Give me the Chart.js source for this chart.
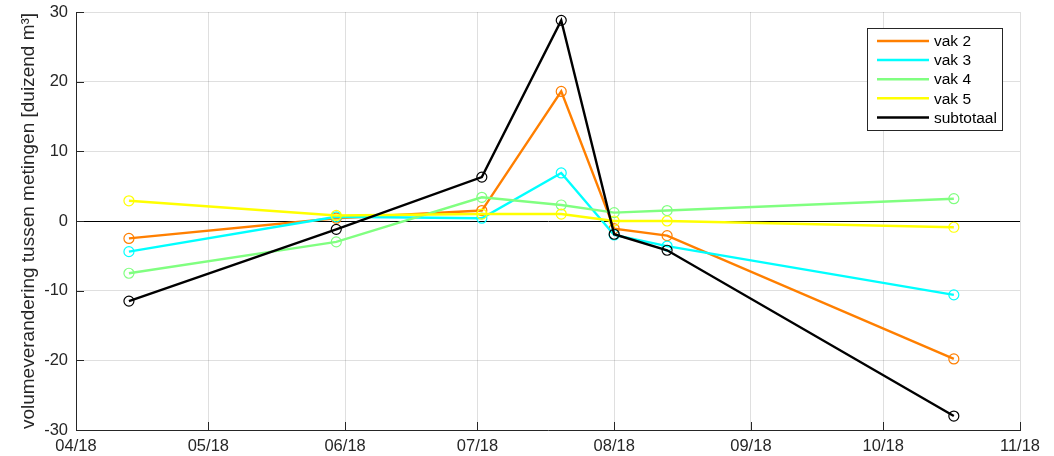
<!DOCTYPE html>
<html>
<head>
<meta charset="utf-8">
<script src="https://cdn.jsdelivr.net/npm/chart.js@4"></script>
<style>
  body { margin: 0; background: #fff; }
</style>
</head>
<body>
<canvas id="myChart" width="1054" height="456"></canvas>
<script>
// meetdata
var dates = ['2018-04-13', '2018-05-30', '2018-07-02', '2018-07-20', '2018-08-01', '2018-08-13', '2018-10-17'];
var vak2 = [-2.5, 0.4, 1.5, 18.6, -1.1, -2.1, -19.8];
var vak3 = [-4.4, 0.6, 0.4, 6.9, -2.0, -3.6, -10.6];
var vak4 = [-7.5, -3.0, 3.4, 2.3, 1.2, 1.5, 3.2];
var vak5 = [2.9, 0.8, 1.0, 1.0, 0.0, 0.0, -0.9];
var subtotaal = [-11.5, -1.2, 6.3, 28.8, -1.9, -4.2, -28.0];

var monthStarts = ['2018-04-01', '2018-05-01', '2018-06-01', '2018-07-01', '2018-08-01', '2018-09-01', '2018-10-01', '2018-11-01'];
var xTickLabels = ['04/18', '05/18', '06/18', '07/18', '08/18', '09/18', '10/18', '11/18'];
var yTicks = [-30, -20, -10, 0, 10, 20, 30];

var seriesNames = ['vak 2', 'vak 3', 'vak 4', 'vak 5', 'subtotaal'];
var seriesValues = [vak2, vak3, vak4, vak5, subtotaal];
var seriesColors = ['#ff7f00', '#00ffff', '#80ff80', '#ffff00', '#000000'];

function toDay(d) {
    return (Date.parse(d) - Date.parse('2018-04-01')) / 86400000;
}

var FONT = 'Liberation Sans, Arial, Helvetica, sans-serif';
var AXIS = '#262626';

var datasets = seriesValues.map(function (vals, i) {
    return {
        label: seriesNames[i],
        data: vals.map(function (v, j) { return { x: toDay(dates[j]), y: v }; }),
        borderColor: seriesColors[i],
        borderWidth: 2.4,
        pointStyle: 'circle',
        pointRadius: 5,
        pointBorderWidth: 1.2,
        pointBackgroundColor: 'rgba(0,0,0,0)',
        pointBorderColor: seriesColors[i],
        tension: 0,
        order: seriesValues.length - i
    };
});

// inward ticks (matlab style) + legend box inside the axes
var extras = {
    id: 'extras',
    afterDraw: function (chart) {
        var ctx = chart.ctx;
        var a = chart.chartArea;
        var xs = chart.scales.x, ys = chart.scales.y;
        ctx.save();
        ctx.strokeStyle = AXIS;
        ctx.lineWidth = 1;
        ctx.beginPath();
        xs.ticks.forEach(function (t) {
            var px = Math.round(xs.getPixelForValue(t.value)) + 0.5;
            ctx.moveTo(px, a.bottom);
            ctx.lineTo(px, a.bottom - 8);
        });
        ys.ticks.forEach(function (t) {
            var py = Math.round(ys.getPixelForValue(t.value)) + 0.5;
            ctx.moveTo(a.left, py);
            ctx.lineTo(a.left + 8, py);
        });
        ctx.stroke();

        // legend
        var bx = 867.5, by = 28.5, bw = 135, bh = 102;
        ctx.fillStyle = '#fff';
        ctx.fillRect(bx, by, bw, bh);
        ctx.strokeStyle = '#262626';
        ctx.lineWidth = 1;
        ctx.strokeRect(bx, by, bw, bh);
        ctx.font = '15.5px ' + FONT;
        ctx.textBaseline = 'middle';
        ctx.textAlign = 'left';
        chart.data.datasets.forEach(function (ds, i) {
            var ry = 41 + i * 19.1;
            ctx.strokeStyle = ds.borderColor;
            ctx.lineWidth = 2.5;
            ctx.beginPath();
            ctx.moveTo(877, ry);
            ctx.lineTo(929, ry);
            ctx.stroke();
            ctx.fillStyle = '#000';
            ctx.fillText(ds.label, 934, ry + 1);
        });
        ctx.restore();
    }
};

var ctx = document.getElementById('myChart').getContext('2d');
var myChart = new Chart(ctx, {
    type: 'line',
    data: { datasets: datasets },
    options: {
        responsive: false,
        animation: false,
        layout: { padding: { top: 12, right: 34, left: 0, bottom: 0 } },
        plugins: {
            legend: { display: false },
            tooltip: { enabled: false }
        },
        scales: {
            x: {
                type: 'linear',
                min: toDay(monthStarts[0]),
                max: toDay(monthStarts[monthStarts.length - 1]),
                afterBuildTicks: function (scale) {
                    scale.ticks = monthStarts.map(function (d) { return { value: toDay(d) }; });
                },
                afterFit: function (scale) {
                    scale.height = 26;
                    scale.paddingLeft = 0;
                    scale.paddingRight = 0;
                },
                ticks: {
                    autoSkip: false,
                    maxRotation: 0,
                    padding: 7,
                    color: AXIS,
                    font: { family: FONT, size: 16.5 },
                    callback: function (v, i) { return xTickLabels[i]; }
                },
                grid: {
                    color: 'rgba(38,38,38,0.15)',
                    drawTicks: false
                },
                border: { color: AXIS, width: 1 }
            },
            y: {
                min: yTicks[0],
                max: yTicks[yTicks.length - 1],
                afterBuildTicks: function (scale) {
                    scale.ticks = yTicks.map(function (v) { return { value: v }; });
                },
                afterFit: function (scale) {
                    scale.width = 76;
                    scale.paddingTop = 0;
                    scale.paddingBottom = 0;
                },
                ticks: {
                    padding: 8,
                    color: AXIS,
                    font: { family: FONT, size: 16.5 }
                },
                grid: {
                    color: function (c) { return c.tick && c.tick.value === 0 ? '#000' : 'rgba(38,38,38,0.15)'; },
                    drawTicks: false
                },
                border: { color: AXIS, width: 1 },
                title: {
                    display: true,
                    text: 'volumeverandering tussen metingen [duizend m\u00b3]',
                    color: AXIS,
                    font: { family: FONT, size: 19 },
                    padding: { top: 17, bottom: 0 }
                }
            }
        }
    },
    plugins: [extras]
});
</script>
</body>
</html>
